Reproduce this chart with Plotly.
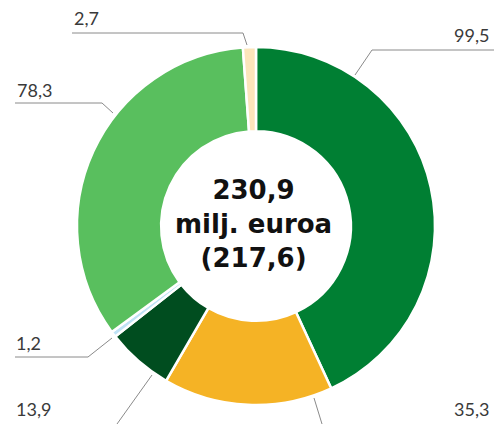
import plotly.graph_objects as go

# ---- data ----
values = [99.5, 35.3, 13.9, 1.2, 78.3, 2.7]
colors = ["#007f33", "#f5b325", "#004d1f", "#bfe2f6", "#59bf5e", "#fbe5bb"]
total_text = "230,9"
unit_text = "milj. euroa"
previous_text = "(217,6)"

W, H = 494, 424

def fmt(v):
    return f"{v:.1f}".replace(".", ",")

# ---- layout helpers (pixel -> paper) ----
def px(x):
    return x / W

def py(y):
    return 1 - y / H

fig = go.Figure(go.Pie(
    values=values,
    marker=dict(colors=colors, line=dict(color="white", width=2.5)),
    sort=False,
    direction="clockwise",
    rotation=0,
    hole=0.53,
    textinfo="none",
    hoverinfo="value",
    domain=dict(x=[px(77), px(435)], y=[py(405), py(47)]),
    showlegend=False,
))

# label placement (layout only), one per slice in order
label_pos = [
    (491, 35, "right"),
    (491, 409, "right"),
    (14, 409, "left"),
    (14, 343, "left"),
    (15, 90, "left"),
    (72, 18, "left"),
]
leader_paths = [
    [(494, 50), (372, 50), (355, 75)],
    [(314, 398), (322, 424)],
    [(152, 375), (117, 424)],
    [(15, 357), (88, 357), (112, 338)],
    [(15, 103), (102, 103), (113, 113)],
    [(72, 33), (243, 33), (247, 45)],
]

annotations = []
for v, (x, y, anchor) in zip(values, label_pos):
    annotations.append(dict(
        text=fmt(v), x=px(x), y=py(y), xref="paper", yref="paper",
        xanchor=anchor, yanchor="middle", showarrow=False,
        font=dict(family="Lato", size=18, color="#3a3a3a"),
    ))

annotations.append(dict(
    text=f"<b>{total_text}</b><br><b>{unit_text}</b><br><b>{previous_text}</b>",
    x=px(254), y=py(224), xref="paper", yref="paper",
    xanchor="center", yanchor="middle", showarrow=False,
    font=dict(family="DejaVu Sans", size=26, color="#111111"),
))

shapes = []
for pts in leader_paths:
    path = "M " + " L ".join(f"{px(x)},{py(y)}" for x, y in pts)
    shapes.append(dict(type="path", path=path, xref="paper", yref="paper",
                       line=dict(color="#8a8a8a", width=1)))

fig.update_layout(
    width=W, height=H,
    margin=dict(l=0, r=0, t=0, b=0),
    paper_bgcolor="white",
    plot_bgcolor="white",
    annotations=annotations,
    shapes=shapes,
)

fig.write_html(
    "out.html",
    config={"displayModeBar": False},
    post_script="document.body.style.margin='0';document.body.style.padding='0';",
)
